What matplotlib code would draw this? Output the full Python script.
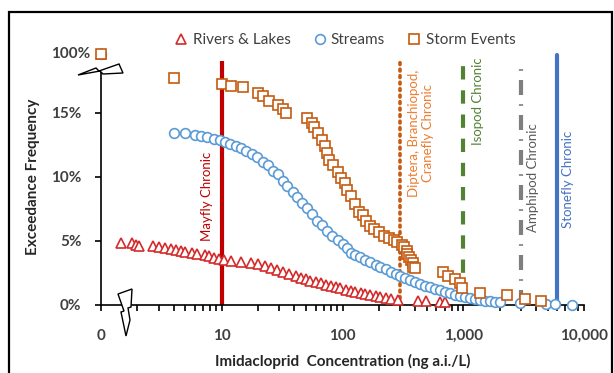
import matplotlib
matplotlib.use("Agg")
import matplotlib.pyplot as plt
from matplotlib.patches import Polygon, Rectangle
import numpy as np

# ---------------- data (concentration ng a.i./L, exceedance %) ----------------
rivers_conc = [0, 1.46, 1.8, 1.95, 2.06, 2.7, 3.0, 3.4, 3.8, 4.2, 4.6, 5.0, 5.65, 6.2, 7.2,
               7.8, 8.6, 9.4, 10.4, 11.9, 14.4, 17.4, 20, 23, 25.4, 28.5, 32, 36, 41, 45,
               50, 54, 60, 66, 73, 80, 88, 96, 106, 117, 128, 141, 155, 170, 188, 206,
               228, 250, 290, 420, 490, 640, 700]
rivers_freq = [100, 4.85, 4.85, 4.7, 4.6, 4.6, 4.5, 4.45, 4.4, 4.3, 4.2, 4.15, 4.05, 4.0, 3.9,
               3.8, 3.7, 3.6, 3.5, 3.45, 3.35, 3.3, 3.2, 3.05, 2.9, 2.75, 2.6, 2.4, 2.25, 2.1,
               2.0, 1.9, 1.8, 1.7, 1.6, 1.5, 1.4, 1.3, 1.2, 1.1, 1.02, 0.95, 0.88, 0.8, 0.7, 0.6,
               0.52, 0.45, 0.4, 0.3, 0.3, 0.2, 0.2]

streams_conc = [0, 4.0, 5.0, 6.0, 6.7, 7.6, 8.6, 9.6, 10.6, 11.6, 13, 14.4, 15.8, 17.7, 19.5,
                21.8, 24, 26.4, 29, 32, 35, 38.6, 42, 46.6, 51, 56, 62, 68, 75, 82, 91, 100,
                108, 117, 128, 140, 155, 170, 188, 206, 228, 250, 275, 300, 330, 365, 400,
                440, 485, 530, 585, 640, 710, 780, 860, 940, 1040, 1140, 1260, 1380, 1520,
                1670, 1840, 2020, 2950, 4800, 5700, 7950]
streams_freq = [100, 13.4, 13.4, 13.3, 13.2, 13.1, 13.0, 12.9, 12.7, 12.6, 12.4, 12.3, 12.0,
                11.8, 11.6, 11.2, 10.9, 10.5, 10.2, 9.7, 9.3, 8.8, 8.4, 8.0, 7.6, 7.1, 6.6,
                6.25, 5.8, 5.4, 5.1, 4.8, 4.45, 4.1, 3.9, 3.75, 3.55, 3.35, 3.15, 3.0, 2.8,
                2.6, 2.42, 2.25, 2.1, 1.95, 1.8, 1.65, 1.52, 1.4, 1.27, 1.15, 1.05, 0.95,
                0.82, 0.7, 0.62, 0.55, 0.47, 0.4, 0.35, 0.3, 0.27, 0.25, 0.15, 0.1, 0.08, 0.0]

storm_conc = [0, 4.0, 10, 12, 15, 20, 22, 24.5, 29, 32, 34, 51, 55.5, 58.6, 63, 68, 71, 74,
              78, 84, 92, 98, 104, 110, 117, 128, 138, 149, 158, 170, 184, 202, 222, 244,
              265, 284, 312, 325, 340, 345, 358, 366, 380, 386, 395, 684, 750, 860, 940,
              980, 1380, 2300, 3250, 4400]
storm_freq = [100, 17.7, 17.3, 17.1, 17.0, 16.6, 16.3, 15.9, 15.6, 15.3, 15.0, 14.6, 14.2,
              13.9, 13.4, 12.9, 12.4, 11.9, 11.3, 10.9, 10.4, 9.9, 9.5, 9.0, 8.5, 7.9, 7.3,
              7.0, 6.6, 6.2, 5.9, 5.7, 5.4, 5.2, 5.1, 4.9, 4.7, 4.5, 4.2, 4.0, 3.75, 3.5,
              3.3, 3.0, 2.9, 2.6, 2.3, 2.0, 1.7, 1.3, 0.95, 0.8, 0.5, 0.3]

series_names = ["Rivers & Lakes", "Streams", "Storm Events"]

thresholds = [10, 300, 1000, 3000, 6000]
threshold_labels = ["Mayfly Chronic", "Diptera, Branchiopod,\nCranefly Chronic",
                    "Isopod Chronic", "Amphipod Chronic", "Stonefly Chronic"]

x_ticks = [1, 10, 100, 1000, 10000]
x_ticklabels = ["0", "10", "100", "1,000", "10,000"]
y_ticks = [0, 5, 10, 15]
y_ticklabels = ["0%", "5%", "10%", "15%"]

# ---------------- helpers for the broken axes ----------------
BREAK_Y = 19.6   # display position of 100 %
def map_x(v):
    v = np.asarray(v, float)
    return np.where(v <= 0, 1.0, v)
def map_y(v):
    v = np.asarray(v, float)
    return np.where(v >= 99.9, BREAK_Y, v)

W, H = 614, 373
fig = plt.figure(figsize=(W / 100, H / 100), dpi=100)
ax = fig.add_axes([101 / W, (H - 305) / H, (584 - 101) / W, (305 - 49) / H])
ax.set_xscale("log")
ax.set_xlim(1, 10000)
ax.set_ylim(0, 20)

plt.rcParams["font.family"] = ["Lato", "DejaVu Sans"]
FONT = ["Lato", "DejaVu Sans"]

red = "#C00000"
blue = "#5B9BD5"
orange = "#C55A11"

# threshold lines
ax.plot([thresholds[0]] * 2, [0, 19.1], color=red, lw=3.0, solid_capstyle="butt", zorder=2)
ax.plot([thresholds[1]] * 2, [0, 19.1], color=orange, lw=2.6, linestyle=(0, (0.5, 1.3)),
        dash_capstyle="round", zorder=2)
ax.plot([thresholds[2]] * 2, [0.6, 19.1], color="#548235", lw=3.0, linestyle=(0, (3.2, 2.6)),
        solid_capstyle="butt", zorder=2)
ax.plot([thresholds[3]] * 2, [0, 18.4], color="#7F7F7F", lw=3.0,
        linestyle=(0, (3.6, 2.2, 0.4, 2.2)), zorder=2)
ax.plot([thresholds[4]] * 2, [0, 19.5], color="#4472C4", lw=3.0, solid_capstyle="round", zorder=2)

# data series
h_r, = ax.plot(map_x(rivers_conc), map_y(rivers_freq), linestyle="none", marker="^", ms=7.5,
               mfc="white", mec="#D42A2A", mew=1.2, clip_on=False, zorder=3, label=series_names[0])
h_s, = ax.plot(map_x(streams_conc), map_y(streams_freq), linestyle="none", marker="o", ms=7,
               mfc="white", mec=blue, mew=1.2, clip_on=False, zorder=3, label=series_names[1])
h_t, = ax.plot(map_x(storm_conc), map_y(storm_freq), linestyle="none", marker="s", ms=7,
               mfc="white", mec=orange, mew=1.2, clip_on=False, zorder=4, label=series_names[2])

# threshold labels
lab_kw = dict(rotation=90, fontsize=9.5, family=FONT, ha="center", va="center",
              multialignment="center")
def px2ax(px, py):
    return ax.transAxes.inverted().transform(fig.transFigure.transform((px / W, 1 - py / H)))
for (px, py), txt, col in [((207, 196), threshold_labels[0], red),
                           ((421, 133), threshold_labels[1], "#ED7D31"),
                           ((478, 101), threshold_labels[2], "#548235"),
                           ((533, 178), threshold_labels[3], "#595959"),
                           ((568, 179), threshold_labels[4], "#4472C4")]:
    x0, y0 = px2ax(px, py)
    ax.text(x0, y0, txt, color=col, transform=ax.transAxes, **lab_kw)

# spines and ticks
for s in ["top", "right"]:
    ax.spines[s].set_visible(False)
ax.spines["left"].set_bounds(0, 18.2)
ax.spines["left"].set_linewidth(1.2)
ax.spines["bottom"].set_linewidth(1.2)
ax.set_yticks(y_ticks)
ax.set_yticklabels(y_ticklabels)
ax.set_xticks(x_ticks)
ax.set_xticklabels(x_ticklabels)
ax.xaxis.set_minor_locator(matplotlib.ticker.LogLocator(base=10, subs=np.arange(2, 10)))
ax.xaxis.set_minor_formatter(matplotlib.ticker.NullFormatter())
ax.tick_params(axis="both", which="major", direction="out", length=4, width=1.2,
               labelsize=11, labelcolor="#404040")
ax.tick_params(axis="x", which="minor", direction="out", length=4, width=1.2)
ax.tick_params(axis="x", pad=13)
ax.tick_params(axis="y", pad=10)
for t in ax.get_xticklabels() + ax.get_yticklabels():
    t.set_fontweight("bold")
    t.set_family(FONT)
ax.text(-0.022, BREAK_Y, "100%", transform=ax.get_yaxis_transform(), ha="right", va="center",
        fontsize=11, fontweight="bold", color="#404040", family=FONT)

ax.set_xlabel("Imidacloprid  Concentration (ng a.i./L)", fontsize=11, fontweight="bold",
              color="#262626", family=FONT, labelpad=8)
ax.set_ylabel("Exceedance Frequency", fontsize=11, fontweight="bold", color="#262626",
              family=FONT, labelpad=0)
ax.yaxis.set_label_coords(px2ax(40, 180)[0], 0.5)

# legend
leg = ax.legend(handles=[h_r, h_s, h_t], loc="center", bbox_to_anchor=px2ax(346, 40),
                ncol=3, frameon=False, handlelength=0.6, handletextpad=0.45,
                columnspacing=1.6, prop={"family": FONT, "size": 11}, borderaxespad=0)
for t in leg.get_texts():
    t.set_color("#404040")

# break symbols (pixel coordinates of the figure)
def fig_poly(pts, **kw):
    p = Polygon([(x / W, 1 - y / H) for x, y in pts], closed=True, transform=fig.transFigure,
                clip_on=False, **kw)
    ax.add_artist(p)
fig_poly([(78, 75), (96, 68), (99, 71), (119, 64), (123, 73), (103, 74), (100, 71)],
         facecolor="white", edgecolor="black", lw=1.0, zorder=6)
fig_poly([(118, 294), (132, 289), (131, 307), (128, 308), (130, 320), (126, 336),
          (121, 312), (124, 311)],
         facecolor="white", edgecolor="black", lw=1.0, zorder=6)

# outer frame
fig.patches.append(Rectangle((9 / W, -0.1), (612 - 9) / W, 1.1 - 12 / H, transform=fig.transFigure,
                             fill=False, edgecolor="black", lw=1.6))

fig.savefig("out.png", dpi=100)
